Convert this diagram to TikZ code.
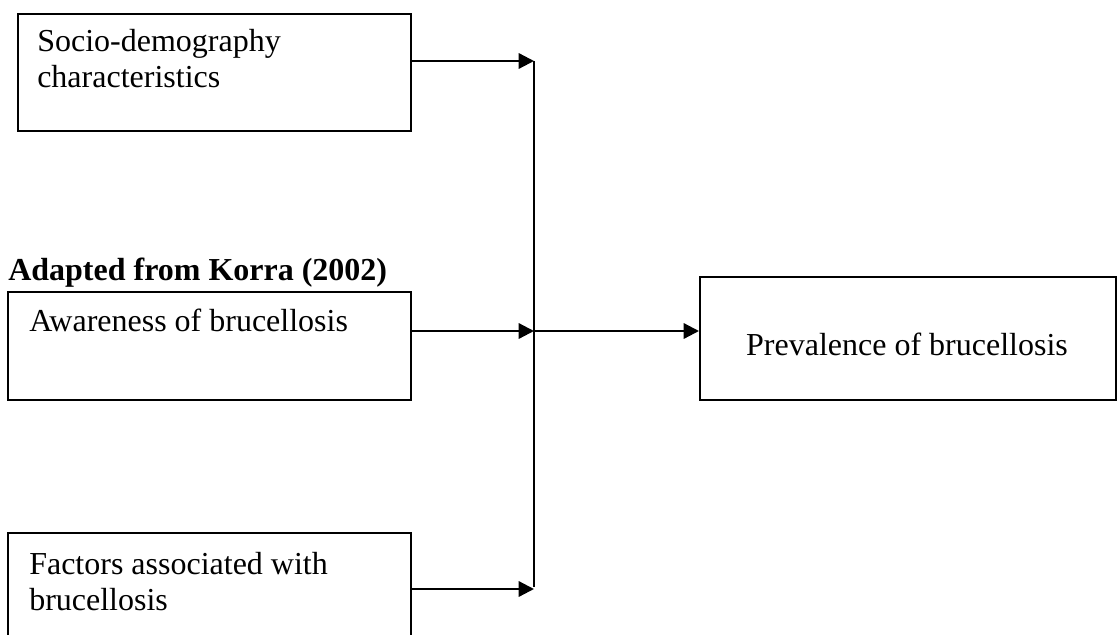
\documentclass[tikz,border=0pt]{standalone}
\usepackage{fontspec}
\setmainfont{Liberation Serif}
\usetikzlibrary{arrows.meta}
\begin{document}
\begin{tikzpicture}[x=0.75pt,y=-0.75pt,
  box/.style={draw, line width=1.7pt, inner sep=0pt, anchor=north west},
  lbl/.style={inner sep=0pt, anchor=base west, align=left, font=\fontsize{24}{27}\selectfont},
  conn/.style={line width=1.7pt, -{Triangle[length=11.5pt,width=11.5pt]}},
  trunk/.style={line width=1.7pt}]
\useasboundingbox (0,0) rectangle (1117,635);
% boxes
\node[box, minimum width=294.75pt, minimum height=87.75pt] (b1) at (16.5,13) {};
\node[box, minimum width=302.25pt, minimum height=81pt] (b2) at (7,291) {};
\node[box, minimum width=302.25pt, minimum height=81pt] (b3) at (7,532) {};
\node[box, minimum width=312pt, minimum height=92.25pt] (b4) at (699,276) {};
% texts (base anchor = baseline of last line)
\node[lbl] (t1) at (37,88) {Socio-demography\\characteristics};
\node[lbl] (t2) at (29,331) {Awareness of brucellosis};
\node[lbl] (t3) at (29,610) {Factors associated with\\brucellosis};
\node[lbl, anchor=base] (t4) at (907,355) {Prevalence of brucellosis};
\node[lbl, font=\fontsize{24}{27}\selectfont\bfseries] (title) at (8,280) {Adapted from Korra (2002)};
% junction
\coordinate (jtop) at (534,61);
\coordinate (jmid) at (534,331);
\coordinate (jbot) at (534,587);
\coordinate (j3) at (534,589);
\draw[trunk] (jtop) -- (jbot);
\draw[conn] (b1.north east |- jtop) -- (jtop);
\draw[conn] (b2.north east |- jmid) -- (jmid);
\draw[conn] (b3.north east |- j3) -- (j3);
\draw[conn] (jmid) -- (jmid -| b4.west);
\end{tikzpicture}
\end{document}
